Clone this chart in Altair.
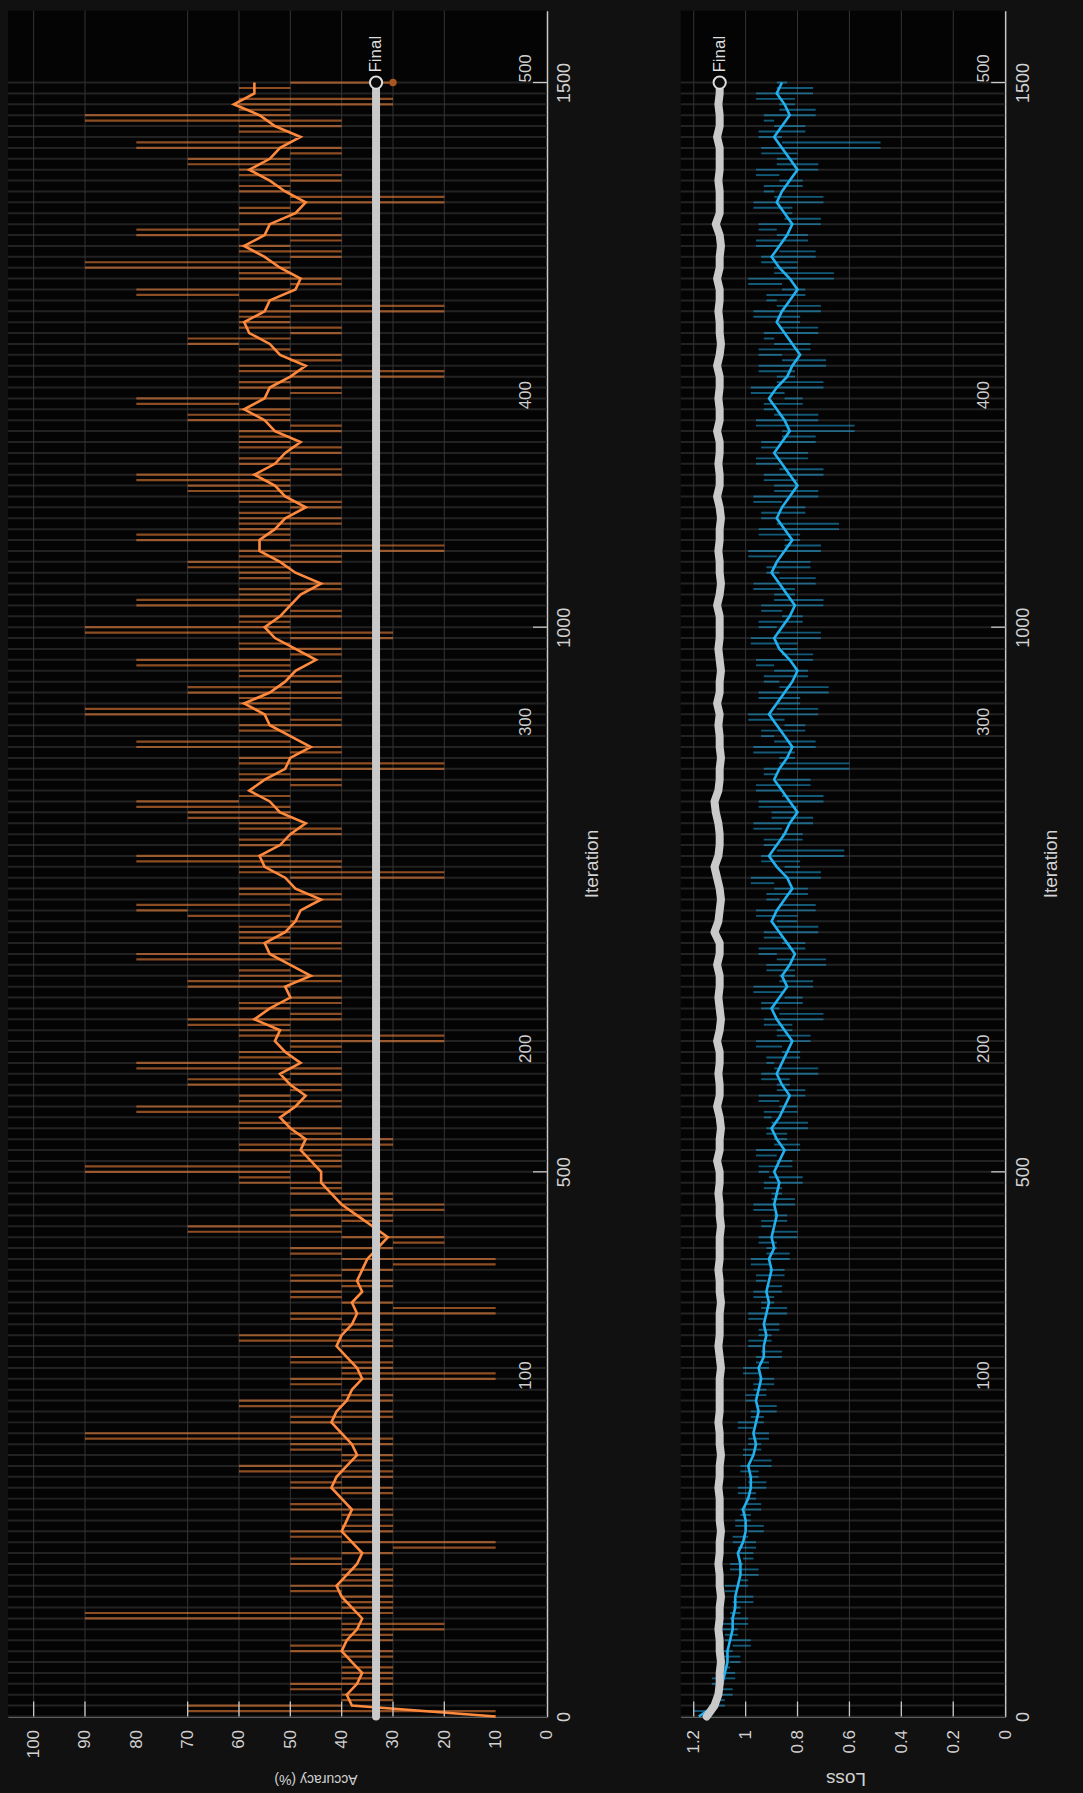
import altair as alt
import pandas as pd

# ---------------- data ----------------
raw_iter = list(range(0, 1501, 5))      # raw samples every 5 iterations
smooth_iter = list(range(0, 1501, 10))  # smoothed / reference samples

acc_raw = [
    10, 70, 40, 30, 40, 50, 30, 40, 30, 40,
    40, 30, 50, 40, 30, 40, 20, 40, 90, 30,
    40, 30, 40, 50, 30, 40, 30, 40, 50, 40,
    30, 10, 40, 50, 30, 40, 40, 30, 50, 40,
    40, 30, 50, 40, 30, 60, 40, 30, 40, 50,
    30, 90, 40, 40, 50, 30, 40, 60, 30, 40,
    40, 50, 10, 40, 30, 50, 40, 40, 30, 60,
    40, 30, 40, 50, 10, 30, 40, 50, 40, 30,
    50, 40, 30, 10, 40, 50, 30, 20, 40, 70,
    40, 30, 50, 20, 40, 30, 50, 40, 60, 50,
    90, 40, 50, 40, 60, 30, 50, 40, 60, 50,
    50, 80, 40, 60, 50, 40, 70, 50, 40, 80,
    50, 60, 40, 50, 20, 60, 50, 70, 40, 50,
    60, 40, 50, 50, 70, 40, 60, 50, 50, 80,
    50, 40, 60, 50, 60, 40, 50, 70, 80, 50,
    40, 60, 50, 50, 20, 60, 40, 80, 50, 50,
    60, 50, 40, 60, 50, 70, 50, 80, 60, 50,
    50, 40, 60, 50, 20, 60, 50, 40, 80, 50,
    50, 60, 40, 50, 90, 50, 60, 40, 70, 50,
    40, 60, 50, 80, 50, 40, 60, 50, 30, 90,
    50, 60, 40, 50, 80, 50, 60, 40, 50, 60,
    50, 70, 40, 60, 20, 50, 80, 50, 60, 40,
    60, 50, 40, 60, 50, 70, 50, 80, 40, 50,
    60, 50, 40, 60, 50, 60, 40, 50, 70, 50,
    60, 80, 50, 40, 60, 50, 20, 60, 50, 40,
    50, 60, 70, 50, 40, 60, 50, 60, 20, 50,
    60, 80, 50, 40, 60, 50, 90, 50, 40, 60,
    50, 40, 80, 60, 50, 40, 60, 50, 20, 50,
    60, 50, 40, 60, 50, 70, 50, 40, 80, 50,
    50, 60, 40, 90, 50, 60, 30, 60, 60, 50,
    30,
]

acc_smooth = [
    10, 38, 39, 37, 36, 38, 40, 39, 37, 36,
    38, 40, 41, 39, 37, 36, 38, 40, 39, 38,
    40, 42, 41, 39, 37, 38, 40, 42, 41, 39,
    38, 36, 37, 39, 41, 40, 38, 37, 38, 36,
    37, 36, 35, 33, 31, 34, 37, 40, 42, 44,
    44, 46, 48, 47, 50, 52, 49, 47, 50, 52,
    48, 51, 53, 52, 57, 54, 50, 51, 46, 50,
    54, 55, 51, 49, 48, 44, 49, 51, 55, 56,
    52, 50, 47, 52, 54, 58, 55, 51, 50, 46,
    50, 54, 55, 59, 54, 51, 49, 45, 49, 53,
    55, 52, 50, 48, 44, 49, 52, 56, 56, 53,
    51, 47, 51, 53, 57, 53, 51, 48, 53, 55,
    59, 55, 54, 50, 47, 52, 54, 58, 59, 55,
    54, 49, 48, 52, 55, 59, 55, 54, 49, 47,
    51, 54, 58, 54, 52, 48, 53, 56, 61, 57,
    57,
]

acc_ref_iter = [0, 1500]
acc_ref = [33.3, 33.3]

loss_raw = [
    1.20, 1.14, 1.08, 1.12, 1.05, 1.10, 1.13, 1.04, 1.09, 1.06,
    1.02, 1.09, 1.05, 0.98, 1.08, 1.03, 1.11, 0.99, 1.06, 1.02,
    1.05, 0.97, 1.04, 1.08, 0.99, 1.02, 0.95, 1.06, 1.01, 0.97,
    1.03, 0.96, 1.05, 0.99, 0.93, 1.04, 0.98, 1.02, 0.94, 1.00,
    0.96, 1.03, 0.92, 0.99, 0.95, 1.02, 0.90, 0.97, 1.01, 0.94,
    0.99, 0.91, 0.97, 1.03, 0.93, 0.98, 0.88, 0.96, 1.00, 0.92,
    0.97, 0.89, 0.95, 1.01, 0.91, 0.96, 0.86, 0.94, 0.99, 0.90,
    0.95, 0.87, 0.93, 0.99, 0.84, 0.94, 0.89, 0.97, 0.86, 0.92,
    0.96, 0.85, 0.91, 0.98, 0.83, 0.92, 0.88, 0.95, 0.80, 0.90,
    0.94, 0.84, 0.89, 0.97, 0.81, 0.90, 0.86, 0.93, 0.78, 0.91,
    0.95, 0.82, 0.88, 0.96, 0.79, 0.89, 0.84, 0.92, 0.76, 0.90,
    0.93, 0.80, 0.87, 0.95, 0.77, 0.88, 0.83, 0.94, 0.72, 0.89,
    0.92, 0.79, 0.86, 0.96, 0.75, 0.88, 0.82, 0.93, 0.70, 0.87,
    0.94, 0.78, 0.85, 0.97, 0.74, 0.87, 0.81, 0.92, 0.69, 0.88,
    0.95, 0.77, 0.86, 0.93, 0.72, 0.88, 0.80, 0.96, 0.73, 0.87,
    0.92, 0.76, 0.89, 0.98, 0.71, 0.85, 0.79, 0.94, 0.62, 0.88,
    0.93, 0.78, 0.86, 0.97, 0.74, 0.90, 0.80, 0.95, 0.70, 0.86,
    0.96, 0.75, 0.88, 0.93, 0.60, 0.87, 0.81, 0.97, 0.73, 0.89,
    0.94, 0.77, 0.85, 0.99, 0.72, 0.88, 0.79, 0.95, 0.68, 0.87,
    0.93, 0.76, 0.89, 0.96, 0.74, 0.86, 0.80, 0.98, 0.71, 0.88,
    0.95, 0.78, 0.86, 0.94, 0.70, 0.89, 0.81, 0.97, 0.73, 0.87,
    0.92, 0.75, 0.88, 0.99, 0.71, 0.85, 0.79, 0.95, 0.64, 0.88,
    0.94, 0.77, 0.86, 0.97, 0.72, 0.89, 0.80, 0.93, 0.70, 0.87,
    0.96, 0.76, 0.88, 0.94, 0.73, 0.86, 0.58, 0.96, 0.72, 0.89,
    0.93, 0.78, 0.85, 0.98, 0.70, 0.88, 0.81, 0.95, 0.69, 0.86,
    0.95, 0.75, 0.89, 0.93, 0.72, 0.87, 0.79, 0.97, 0.71, 0.88,
    0.92, 0.77, 0.86, 0.99, 0.66, 0.89, 0.80, 0.94, 0.73, 0.87,
    0.96, 0.76, 0.88, 0.95, 0.71, 0.85, 0.82, 0.97, 0.70, 0.89,
    0.93, 0.78, 0.87, 0.96, 0.72, 0.88, 0.80, 0.94, 0.48, 0.86,
    0.95, 0.77, 0.89, 0.93, 0.73, 0.87, 0.81, 0.96, 0.74, 0.88,
    0.84,
]

loss_smooth = [
    1.18, 1.12, 1.10, 1.09, 1.08, 1.07, 1.07, 1.06, 1.05, 1.05,
    1.04, 1.04, 1.03, 1.02, 1.02, 1.03, 1.01, 1.00, 1.00, 1.01,
    0.99, 0.98, 0.98, 0.99, 0.97, 0.96, 0.97, 0.96, 0.95, 0.96,
    0.95, 0.94, 0.95, 0.93, 0.93, 0.92, 0.93, 0.92, 0.91, 0.92,
    0.91, 0.90, 0.91, 0.89, 0.90, 0.89, 0.88, 0.89, 0.88, 0.87,
    0.89, 0.87, 0.85, 0.88, 0.90, 0.87, 0.85, 0.83, 0.86, 0.88,
    0.86, 0.84, 0.82, 0.85, 0.88, 0.90, 0.87, 0.84, 0.86, 0.83,
    0.81, 0.84, 0.87, 0.90, 0.88, 0.85, 0.82, 0.84, 0.88, 0.91,
    0.88, 0.85, 0.83, 0.80, 0.83, 0.86, 0.89, 0.87, 0.84, 0.82,
    0.85, 0.88, 0.91, 0.88, 0.85, 0.82, 0.80, 0.83, 0.87, 0.89,
    0.86, 0.83, 0.81, 0.84, 0.87, 0.90, 0.88, 0.85, 0.82, 0.85,
    0.88, 0.86, 0.83, 0.80, 0.83, 0.86, 0.89, 0.86, 0.83, 0.85,
    0.88, 0.91, 0.88, 0.84, 0.82, 0.79, 0.82, 0.85, 0.88, 0.86,
    0.83, 0.80, 0.83, 0.87, 0.90, 0.87, 0.84, 0.82, 0.85, 0.88,
    0.86, 0.83, 0.80, 0.83, 0.86, 0.89, 0.86, 0.83, 0.85, 0.88,
    0.86,
]

loss_ref = [
    1.15, 1.12, 1.105, 1.10, 1.10, 1.095, 1.10, 1.10, 1.105, 1.10,
    1.10, 1.095, 1.10, 1.10, 1.105, 1.10, 1.10, 1.095, 1.10, 1.10,
    1.10, 1.105, 1.10, 1.10, 1.095, 1.10, 1.10, 1.105, 1.10, 1.10,
    1.10, 1.10, 1.095, 1.10, 1.105, 1.10, 1.10, 1.10, 1.095, 1.10,
    1.10, 1.105, 1.10, 1.10, 1.10, 1.095, 1.10, 1.10, 1.105, 1.10,
    1.10, 1.11, 1.10, 1.10, 1.095, 1.10, 1.11, 1.10, 1.10, 1.105,
    1.10, 1.10, 1.11, 1.10, 1.095, 1.10, 1.105, 1.10, 1.10, 1.11,
    1.10, 1.10, 1.12, 1.105, 1.10, 1.095, 1.10, 1.11, 1.12, 1.105,
    1.10, 1.10, 1.105, 1.115, 1.12, 1.105, 1.10, 1.10, 1.095, 1.10,
    1.10, 1.105, 1.10, 1.11, 1.10, 1.10, 1.095, 1.10, 1.105, 1.10,
    1.10, 1.10, 1.11, 1.10, 1.095, 1.10, 1.10, 1.105, 1.10, 1.10,
    1.095, 1.10, 1.11, 1.10, 1.10, 1.105, 1.10, 1.10, 1.11, 1.10,
    1.10, 1.105, 1.10, 1.10, 1.11, 1.10, 1.095, 1.10, 1.10, 1.105,
    1.10, 1.10, 1.11, 1.10, 1.10, 1.095, 1.10, 1.115, 1.10, 1.10,
    1.10, 1.105, 1.10, 1.10, 1.10, 1.11, 1.10, 1.10, 1.105, 1.10,
    1.10,
]

acc_labels = [0, 10, 20, 30, 40, 50, 60, 70, 80, 90, 100]
acc_grid = [20, 30, 40, 50, 60, 70, 90, 100]
loss_labels = [0, 0.2, 0.4, 0.6, 0.8, 1, 1.2]
loss_grid = [0.2, 0.4, 0.6, 0.8, 1, 1.2]
iter_ticks = [0, 500, 1000, 1500]
iter_tick_marks = [500, 1000, 1500]
inner_labels = ["100", "200", "300", "400", "500"]
inner_label_iter = [300, 600, 900, 1200, 1500]
stripe_iter = list(range(0, 1501, 10))

# ---------------- style ----------------
FONT = "Liberation Sans"
TXT = "#d2d2d2"
AXC = "#c8c8c8"
ORANGE = "#ff8a3d"
BLUE = "#22b0ee"
GRAY = "#c9c9c9"
H = 1709
W_ACC = 540
W_LOSS = 325
ITER_DOMAIN = [0, 1566]


def panel(width, vdomain, vlabels, vgrid, vfmt, vtitle, vtitle_size, vtitle_x,
          raw_vals, smooth_vals, ref_iter, ref_vals, color, raw_opacity, raw_width,
          raw_dot=None):
    yaxis = alt.Axis(orient="right", values=iter_ticks, format="d", grid=False,
                     ticks=False, domain=True, domainColor=AXC, domainWidth=1.5,
                     labelAngle=270, labelAlign="center", labelBaseline="top",
                     labelPadding=9, labelFontSize=18, labelColor=TXT,
                     labelOverlap=False, labelFlush=False,
                     title="Iteration", titleAngle=270, titleFontSize=19,
                     titleFontWeight="normal", titleColor=TXT, titleX=45,
                     titleY=H / 2, titleAlign="center", titleBaseline="middle")
    xaxis = alt.Axis(orient="bottom", values=vlabels, format=vfmt, grid=False,
                     ticks=False, domain=True, domainColor=AXC, domainWidth=1.5,
                     labelAngle=270, labelAlign="right", labelBaseline="middle",
                     labelPadding=13, labelFontSize=17, labelColor=TXT,
                     labelOverlap=False, labelFlush=False,
                     title=vtitle, titleAngle=180, titleFontSize=vtitle_size,
                     titleFontWeight="normal", titleColor=TXT, titleX=vtitle_x,
                     titleY=62, titleAlign="center", titleBaseline="middle")
    sx = alt.Scale(domain=vdomain, reverse=True, nice=False, zero=False)
    X = alt.X("val:Q", scale=sx, axis=xaxis)
    Y = alt.Y("it:Q", scale=alt.Scale(domain=ITER_DOMAIN, nice=False, zero=False), axis=yaxis)

    stripes = alt.Chart(pd.DataFrame({"it": stripe_iter})).mark_rule(
        color="#222222", strokeWidth=2).encode(y=Y, x=alt.value(0), x2=alt.value(width))
    grid = alt.Chart(pd.DataFrame({"val": vgrid})).mark_rule(
        color="#343434", strokeWidth=1).encode(x=X, y=alt.value(0), y2=alt.value(H))
    # raw series: each sample drawn as a horizontal stroke from the previous value
    raw = alt.Chart(pd.DataFrame({"it": raw_iter, "val": raw_vals})).transform_window(
        prev="lag(val)", sort=[alt.SortField("it")]
    ).transform_filter("datum.prev != null").mark_rule(
        color=color, opacity=raw_opacity, strokeWidth=raw_width).encode(
        x=X, x2=alt.X2("prev:Q"), y=Y)
    smooth = alt.Chart(pd.DataFrame({"it": smooth_iter, "val": smooth_vals})).mark_line(
        color=color, strokeWidth=2.6).encode(x=X, y=Y, order="it:Q")
    ref = alt.Chart(pd.DataFrame({"it": ref_iter, "val": ref_vals})).mark_line(
        color=GRAY, strokeWidth=8, strokeCap="round", strokeJoin="round").encode(
        x=X, y=Y, order="it:Q")
    vticks = alt.Chart(pd.DataFrame({"val": vgrid})).mark_rule(
        color=AXC, strokeWidth=1.3).encode(x=X, y=alt.value(H - 15), y2=alt.value(H))
    iticks = alt.Chart(pd.DataFrame({"it": iter_tick_marks})).mark_rule(
        color=AXC, strokeWidth=1.3).encode(y=Y, x=alt.value(width - 14), x2=alt.value(width))
    final_df = pd.DataFrame({"it": [ref_iter[-1]], "val": [ref_vals[-1]]})
    final_pt = alt.Chart(final_df).mark_point(
        shape="circle", filled=True, fill="#0b0b0b", stroke="#dedede",
        strokeWidth=2, size=150, opacity=1).encode(x=X, y=Y)
    final_txt = alt.Chart(final_df).mark_text(
        text="Final", angle=270, align="left", baseline="middle", dx=10,
        fontSize=17, color="#dedede", font=FONT).encode(x=X, y=Y)
    inner = alt.Chart(pd.DataFrame({"it": inner_label_iter, "lab": inner_labels})).mark_text(
        angle=270, align="left", baseline="middle", fontSize=17, color="#cfcfcf",
        font=FONT).encode(y=Y, x=alt.value(width - 21), text="lab:N")

    layers = [stripes, grid, raw, smooth, ref, vticks, iticks]
    if raw_dot is not None:
        layers.append(alt.Chart(pd.DataFrame({"it": [1500], "val": [raw_dot]})).mark_circle(
            color="#a8561f", size=55, opacity=1).encode(x=X, y=Y))
    layers += [final_pt, final_txt, inner]
    return alt.layer(*layers).properties(width=width, height=H)


acc_panel = panel(W_ACC, [0, 105], acc_labels, acc_grid, "d", "Accuracy (%)", 14, 308,
                  acc_raw, acc_smooth, acc_ref_iter, acc_ref, ORANGE, 0.55, 2.2,
                  raw_dot=acc_raw[-1])
loss_panel = panel(W_LOSS, [0, 1.25], loss_labels, loss_grid, "~g", "Loss", 19, 165,
                   loss_raw, loss_smooth, smooth_iter, loss_ref, BLUE, 0.5, 1.9)

chart = alt.hconcat(acc_panel, loss_panel, spacing=78).properties(
    background="#111111",
    padding={"left": 7, "top": 8, "right": 23, "bottom": 4},
).configure_view(fill="#040404", strokeWidth=0).configure_axis(
    labelFont=FONT, titleFont=FONT).configure_text(font=FONT)

chart.save("out.html", embed_options={"renderer": "svg", "actions": False})
